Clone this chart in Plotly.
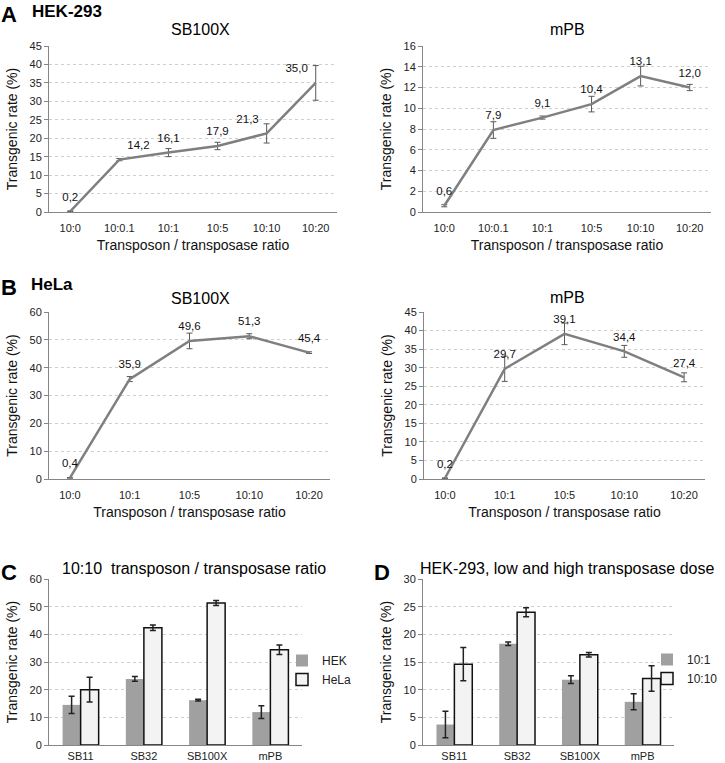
import plotly.graph_objects as go

# ---------------- data ----------------
ratios_A = ["10:0", "10:0.1", "10:1", "10:5", "10:10", "10:20"]
ratios_B = ["10:0", "10:1", "10:5", "10:10", "10:20"]

hek_sb100x = [0.2, 14.2, 16.1, 17.9, 21.3, 35.0]
hek_sb100x_err = [0.1, 0.3, 1.1, 1.0, 2.6, 4.7]
hek_mpb = [0.6, 7.9, 9.1, 10.4, 13.1, 12.0]
hek_mpb_err = [0.1, 0.8, 0.15, 0.75, 0.95, 0.3]

hela_sb100x = [0.4, 35.9, 49.6, 51.3, 45.4]
hela_sb100x_err = [0.1, 0.9, 2.8, 0.9, 0.3]
hela_mpb = [0.2, 29.7, 39.1, 34.4, 27.4]
hela_mpb_err = [0.1, 3.4, 2.9, 1.6, 1.2]

transposases = ["SB11", "SB32", "SB100X", "mPB"]
c_hek = [14.5, 23.9, 16.2, 11.9]
c_hek_err = [3.1, 0.9, 0.3, 2.3]
c_hela = [20.0, 42.4, 51.3, 34.4]
c_hela_err = [4.5, 1.0, 0.9, 1.7]

d_low = [3.7, 18.3, 11.8, 7.8]
d_low_err = [2.4, 0.3, 0.7, 1.45]
d_high = [14.6, 24.0, 16.3, 12.0]
d_high_err = [3.0, 0.8, 0.4, 2.3]

# ---------------- styling helpers ----------------
W, H = 725, 763
FONT = "Liberation Sans, Arial, Helvetica, sans-serif"
AXIS_COL = "#868686"
GRID_COL = "#cfcfcf"
LINE_COL = "#7f7f7f"


def px(x):
    return x / W


def py(y):
    return 1 - y / H


def lbl(vals):
    return [f"{v:.1f}".replace(".", ",") for v in vals]


fig = go.Figure()


def line_trace(x, y, err, xa, ya, tpos):
    return go.Scatter(
        x=x, y=y, xaxis=xa, yaxis=ya,
        mode="lines+markers+text",
        line=dict(color=LINE_COL, width=2.5),
        marker=dict(size=11, color="rgba(0,0,0,0)"),
        text=lbl(y), textposition=tpos,
        textfont=dict(family=FONT, size=11.5, color="#111"),
        error_y=dict(type="data", array=err, visible=True,
                     color="#595959", thickness=1, width=3),
        showlegend=False, cliponaxis=False, hoverinfo="skip",
    )


fig.add_trace(line_trace(ratios_A, hek_sb100x, hek_sb100x_err, "x", "y",
                         ["top center", "top right", "top center", "top center", "top left", "top left"]))
fig.add_trace(line_trace(ratios_A, hek_mpb, hek_mpb_err, "x2", "y2", "top center"))
fig.add_trace(line_trace(ratios_B, hela_sb100x, hela_sb100x_err, "x3", "y3", "top center"))
fig.add_trace(line_trace(ratios_B, hela_mpb, hela_mpb_err, "x4", "y4", "top center"))

GRAY_BAR = "#a0a0a0"
LIGHT_BAR = "#f3f3f3"


def bar_trace(name, y, err, xa, ya, fill, outline, legend):
    return go.Bar(
        name=name, x=transposases, y=y, xaxis=xa, yaxis=ya,
        marker=dict(color=fill,
                    line=dict(color="#111" if outline else fill, width=1.5 if outline else 0)),
        error_y=dict(type="data", array=err, visible=True,
                     color="#222", thickness=1.5, width=3),
        legend=legend,
    )


fig.add_trace(bar_trace("HEK", c_hek, c_hek_err, "x5", "y5", GRAY_BAR, False, "legend"))
fig.add_trace(bar_trace("HeLa", c_hela, c_hela_err, "x5", "y5", LIGHT_BAR, True, "legend"))
fig.add_trace(bar_trace("10:1", d_low, d_low_err, "x6", "y6", GRAY_BAR, False, "legend2"))
fig.add_trace(bar_trace("10:10", d_high, d_high_err, "x6", "y6", LIGHT_BAR, True, "legend2"))

# ---------------- axes ----------------
tickfont = dict(family=FONT, size=11, color="#222")
titlefont = dict(family=FONT, size=14, color="#111")

panels = {
    # name: (x0, x1, ytop, ybottom, yrange, dtick, xtitle)
    "1": (49, 337, 46, 212, [0, 45], 5, True),
    "2": (423, 711, 46, 212, [0, 16], 2, True),
    "3": (49, 330, 312, 479, [0, 60], 10, True),
    "4": (424, 705, 312, 479, [0, 45], 5, True),
    "5": (49, 302, 579, 745, [0, 60], 10, False),
    "6": (423, 674, 579, 745, [0, 30], 5, False),
}

layout_axes = {}
for k, (x0, x1, yt, yb, yr, dt, xt) in panels.items():
    xname = "xaxis" if k == "1" else f"xaxis{k}"
    yname = "yaxis" if k == "1" else f"yaxis{k}"
    yref = "y" if k == "1" else f"y{k}"
    xref = "x" if k == "1" else f"x{k}"
    layout_axes[xname] = dict(
        domain=[px(x0), px(x1)], anchor=yref, type="category",
        showline=True, linecolor=AXIS_COL, linewidth=1,
        showgrid=False, ticks="", tickfont=tickfont,
        ticklabelstandoff=6 if xt else 1,
        title=dict(text="Transposon / transposase ratio" if xt else "",
                   font=titlefont, standoff=6),
        automargin=False, fixedrange=True,
    )
    layout_axes[yname] = dict(
        domain=[py(yb), py(yt)], anchor=xref, range=yr, dtick=dt,
        showline=True, linecolor=AXIS_COL, linewidth=1,
        ticks="outside", ticklen=4, tickcolor=AXIS_COL,
        showgrid=True, gridcolor=GRID_COL, griddash="dot", gridwidth=1,
        zeroline=False, tickfont=tickfont,
        title=dict(text="Transgenic rate (%)", font=titlefont, standoff=8),
        automargin=False, fixedrange=True,
    )

fig.update_layout(**layout_axes)

# ---------------- annotations (titles & panel letters) ----------------
ann = []


def text(x, y, s, size, bold=False, xanchor="center"):
    ann.append(dict(
        x=px(x), y=py(y), xref="paper", yref="paper", text=f"<b>{s}</b>" if bold else s,
        showarrow=False, xanchor=xanchor, yanchor="middle",
        font=dict(family=FONT, size=size, color="#000"),
    ))


text(200, 29, "SB100X", 16)
text(567, 29, "mPB", 16)
text(200, 298, "SB100X", 16)
text(567, 297, "mPB", 16)
text(194, 568, "10:10  transposon / transposase ratio", 16)
text(567, 568, "HEK-293, low and high transposase dose", 16)

text(-1, 14, "A", 22, bold=True, xanchor="left")
text(30, 11, "HEK-293", 17, bold=True, xanchor="left")
text(-1, 287, "B", 22, bold=True, xanchor="left")
text(29, 285, "HeLa", 17, bold=True, xanchor="left")
text(-1, 572, "C", 22, bold=True, xanchor="left")
text(372, 572, "D", 22, bold=True, xanchor="left")

legend_font = dict(family=FONT, size=12, color="#222")

fig.update_layout(
    template="none",
    width=W, height=H,
    margin=dict(l=0, r=0, t=0, b=0, autoexpand=False),
    paper_bgcolor="white", plot_bgcolor="white",
    font=dict(family=FONT),
    annotations=ann,
    barmode="group", bargap=0.43, bargroupgap=0,
    hovermode=False,
    legend=dict(x=px(282), y=py(670), xanchor="left", yanchor="middle",
                font=legend_font, bgcolor="rgba(0,0,0,0)", itemwidth=30,
                tracegroupgap=0, borderwidth=0),
    legend2=dict(x=px(647), y=py(669), xanchor="left", yanchor="middle",
                 font=legend_font, bgcolor="rgba(0,0,0,0)", itemwidth=30,
                 tracegroupgap=0, borderwidth=0),
)

# remove the browser's default page margin so the 725x763 figure fills the window exactly
fig.write_html("out.html", config={"displayModeBar": False},
               post_script="document.body.style.margin='0';document.body.style.overflow='hidden';")
